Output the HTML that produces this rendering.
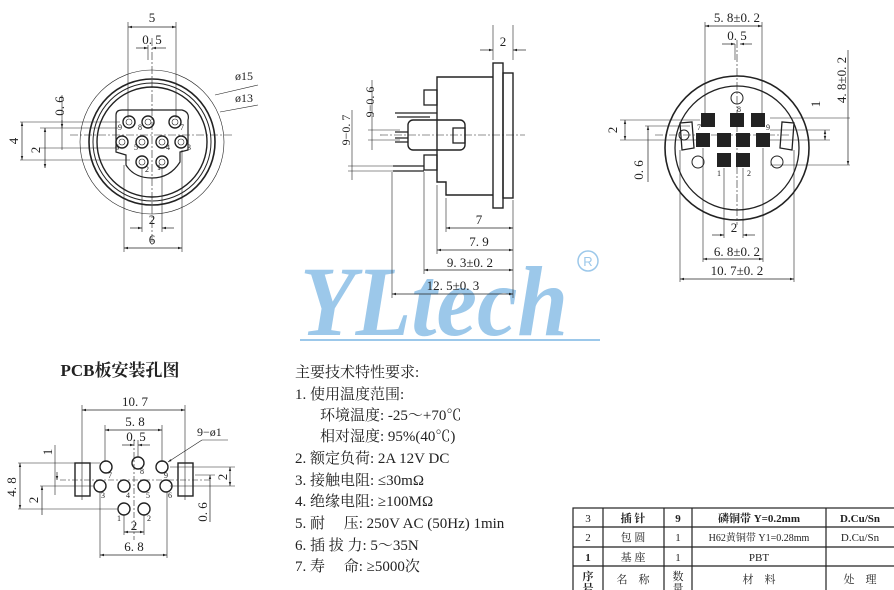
<!DOCTYPE html>
<html><head><meta charset="utf-8"><style>
html,body{margin:0;padding:0;background:#fff}
svg{display:block}
text{font-family:"Liberation Serif","Noto Serif CJK SC",serif;fill:#222}
.d{font-size:13px;text-anchor:middle}
.s{font-size:8px}
</style></head><body>
<svg width="894" height="590" viewBox="0 0 894 590" xmlns="http://www.w3.org/2000/svg">
<defs>
<marker id="a" viewBox="0 0 10 10" refX="10" refY="5" markerWidth="6" markerHeight="6" orient="auto-start-reverse"><path d="M0,2L10,5L0,8z" fill="#222"/></marker>
</defs>
<!-- watermark -->
<g fill="#9cc8ea">
<text x="300" y="335" style="font-size:100px;font-style:italic;font-weight:bold;fill:#9cc8ea" textLength="268" lengthAdjust="spacingAndGlyphs">YLtech</text>
<rect x="300" y="339" width="300" height="2"/>
</g>
<circle cx="588" cy="261" r="10" fill="none" stroke="#9cc8ea" stroke-width="1.5"/>
<text x="588" y="266" style="font-size:13px;fill:#9cc8ea;text-anchor:middle;font-family:'Liberation Sans',sans-serif">R</text>

<g stroke="#222" fill="none" stroke-width="1">
<!-- LEFT FRONT VIEW -->
<circle cx="152" cy="142" r="72" stroke-width="0.6"/>
<circle cx="152" cy="142" r="63" stroke-width="1.6"/>
<circle cx="152" cy="142" r="59"/>
<circle cx="152" cy="142" r="55" stroke-width="1.4"/>
<path d="M122,110 L182,110 Q190,112 188,120 L188,150 L180,152 L180,162 Q170,178 152,178 Q134,178 126,165 L126,155 L116,152 L116,115 Q116,110 122,110Z" stroke-width="1.2"/>
<g stroke-width="1.4">
<circle cx="129" cy="122" r="6"/><circle cx="148" cy="122" r="6"/><circle cx="175" cy="122" r="6"/>
<circle cx="122" cy="142" r="6"/><circle cx="142" cy="142" r="6"/><circle cx="162" cy="142" r="6"/><circle cx="181" cy="142" r="6"/>
<circle cx="142" cy="162" r="6"/><circle cx="162" cy="162" r="6"/>
</g>
<g stroke-width="0.6">
<circle cx="129" cy="122" r="3"/><circle cx="148" cy="122" r="3"/><circle cx="175" cy="122" r="3"/>
<circle cx="122" cy="142" r="3"/><circle cx="142" cy="142" r="3"/><circle cx="162" cy="142" r="3"/><circle cx="181" cy="142" r="3"/>
<circle cx="142" cy="162" r="3"/><circle cx="162" cy="162" r="3"/>
<line x1="128" y1="22" x2="128" y2="118"/><line x1="176" y1="22" x2="176" y2="118"/>
<line x1="152" y1="38" x2="152" y2="245" stroke-dasharray="8,2,2,2"/>
<line x1="148" y1="45" x2="148" y2="60"/>
<line x1="70" y1="135" x2="232" y2="135" stroke-dasharray="8,2,2,2"/>
<line x1="20" y1="122" x2="120" y2="122"/><line x1="20" y1="160" x2="130" y2="160"/>
<line x1="40" y1="128" x2="118" y2="128"/><line x1="40" y1="148" x2="118" y2="148"/>
<line x1="62" y1="95" x2="62" y2="150"/>
<line x1="124" y1="165" x2="124" y2="252"/><line x1="182" y1="150" x2="182" y2="252"/>
<line x1="142" y1="168" x2="142" y2="232"/><line x1="162" y1="168" x2="162" y2="232"/>
<line x1="215" y1="95" x2="258" y2="85"/><line x1="220" y1="112" x2="258" y2="105"/>
</g>
<g stroke-width="0.7">
<line x1="128" y1="27" x2="176" y2="27" marker-start="url(#a)" marker-end="url(#a)"/>
<line x1="136" y1="48" x2="148" y2="48" marker-end="url(#a)"/><line x1="166" y1="48" x2="152" y2="48" marker-end="url(#a)"/>
<line x1="22" y1="122" x2="22" y2="160" marker-start="url(#a)" marker-end="url(#a)"/>
<line x1="45" y1="128" x2="45" y2="168" marker-start="url(#a)" marker-end="url(#a)"/>
<line x1="62" y1="120" x2="62" y2="128" marker-end="url(#a)"/>
<line x1="130" y1="228" x2="142" y2="228" marker-end="url(#a)"/><line x1="174" y1="228" x2="162" y2="228" marker-end="url(#a)"/>
<line x1="124" y1="248" x2="182" y2="248" marker-start="url(#a)" marker-end="url(#a)"/>
</g>

<!-- SIDE VIEW -->
<rect x="493" y="63" width="10" height="145" stroke-width="1.4"/>
<rect x="503" y="73" width="10" height="125" stroke-width="1.4"/>
<path d="M493,77 L437,77 L437,182 L446,182 L446,195 L493,195" stroke-width="1.4"/>
<rect x="424" y="90" width="13" height="15" stroke-width="1.3"/>
<rect x="424" y="155" width="13" height="15" stroke-width="1.3"/>
<rect x="408" y="120" width="57" height="30" rx="5" stroke-width="1.4"/>
<rect x="453" y="128" width="12" height="15" stroke-width="1.3"/>
<path d="M395,113 L437,113 M397,117 L430,117 M395,132 L408,132 M395,138 L408,138 M395,142 L408,142 M393,166 L424,166 M393,171 L424,171" stroke-width="1.2"/>
<g stroke-width="0.6">
<line x1="380" y1="135" x2="525" y2="135" stroke-dasharray="8,2,2,2"/>
<line x1="513" y1="25" x2="513" y2="60"/><line x1="493" y1="25" x2="493" y2="60"/>
<line x1="513" y1="200" x2="513" y2="298"/>
<line x1="446" y1="198" x2="446" y2="232"/><line x1="437" y1="185" x2="437" y2="254"/>
<line x1="424" y1="172" x2="424" y2="274"/><line x1="392" y1="172" x2="392" y2="298"/>
<line x1="372" y1="80" x2="372" y2="150"/><line x1="352" y1="110" x2="352" y2="180"/>
<line x1="368" y1="130" x2="400" y2="130"/><line x1="368" y1="140" x2="400" y2="140"/>
<line x1="348" y1="166" x2="395" y2="166"/><line x1="348" y1="171" x2="395" y2="171"/>
</g>
<g stroke-width="0.7">
<line x1="480" y1="50" x2="493" y2="50" marker-end="url(#a)"/><line x1="526" y1="50" x2="513" y2="50" marker-end="url(#a)"/>
<line x1="446" y1="228" x2="513" y2="228" marker-start="url(#a)" marker-end="url(#a)"/>
<line x1="437" y1="250" x2="513" y2="250" marker-start="url(#a)" marker-end="url(#a)"/>
<line x1="424" y1="270" x2="513" y2="270" marker-start="url(#a)" marker-end="url(#a)"/>
<line x1="392" y1="294" x2="513" y2="294" marker-start="url(#a)" marker-end="url(#a)"/>
</g>

<!-- RIGHT VIEW -->
<circle cx="737" cy="148" r="72" stroke-width="1.6"/>
<circle cx="737" cy="148" r="62" stroke-width="1.3"/>
<circle cx="737" cy="98" r="6"/>
<circle cx="698" cy="162" r="6"/><circle cx="777" cy="162" r="6"/>
<path d="M680,123 L692,122 L694,148 L682,150Z M794,123 L782,122 L780,148 L792,150Z" stroke-width="1.3"/>
<circle cx="684" cy="135" r="5"/>
<g fill="#222" stroke="none">
<rect x="701" y="113" width="14" height="14"/><rect x="730" y="113" width="14" height="14"/><rect x="751" y="113" width="14" height="14"/>
<rect x="696" y="133" width="14" height="14"/><rect x="717" y="133" width="14" height="14"/><rect x="736" y="133" width="14" height="14"/><rect x="756" y="133" width="14" height="14"/>
<rect x="717" y="153" width="14" height="14"/><rect x="736" y="153" width="14" height="14"/>
</g>
<g stroke-width="0.6">
<line x1="705" y1="22" x2="705" y2="118"/><line x1="762" y1="22" x2="762" y2="118"/>
<line x1="737" y1="40" x2="737" y2="225" stroke-dasharray="8,2,2,2"/>
<line x1="735" y1="44" x2="735" y2="60"/>
<line x1="655" y1="135" x2="790" y2="135" stroke-dasharray="8,2,2,2"/>
<line x1="620" y1="120" x2="700" y2="120"/><line x1="620" y1="140" x2="700" y2="140"/>
<line x1="645" y1="126" x2="690" y2="126"/>
<line x1="770" y1="118" x2="850" y2="118"/><line x1="770" y1="130" x2="830" y2="130"/><line x1="770" y1="140" x2="830" y2="140"/><line x1="770" y1="165" x2="850" y2="165"/>
<line x1="680" y1="150" x2="680" y2="282"/><line x1="794" y1="150" x2="794" y2="282"/>
<line x1="703" y1="148" x2="703" y2="262"/><line x1="763" y1="148" x2="763" y2="262"/>
<line x1="724" y1="168" x2="724" y2="238"/><line x1="743" y1="168" x2="743" y2="238"/>
</g>
<g stroke-width="0.7">
<line x1="705" y1="26" x2="762" y2="26" marker-start="url(#a)" marker-end="url(#a)"/>
<line x1="722" y1="44" x2="735" y2="44" marker-end="url(#a)"/><line x1="752" y1="44" x2="740" y2="44" marker-end="url(#a)"/>
<line x1="625" y1="120" x2="625" y2="140" marker-start="url(#a)" marker-end="url(#a)"/>
<line x1="648" y1="126" x2="648" y2="182" marker-start="url(#a)"/>
<line x1="825" y1="130" x2="825" y2="140" marker-start="url(#a)" marker-end="url(#a)"/>
<line x1="848" y1="50" x2="848" y2="165" marker-end="url(#a)"/>
<line x1="712" y1="235" x2="724" y2="235" marker-end="url(#a)"/><line x1="755" y1="235" x2="743" y2="235" marker-end="url(#a)"/>
<line x1="703" y1="259" x2="763" y2="259" marker-start="url(#a)" marker-end="url(#a)"/>
<line x1="680" y1="279" x2="794" y2="279" marker-start="url(#a)" marker-end="url(#a)"/>
</g>

<!-- PCB -->
<g stroke-width="1.4">
<rect x="75" y="463" width="15" height="33"/><rect x="178" y="463" width="15" height="33"/>
<circle cx="138" cy="463" r="6"/><circle cx="106" cy="467" r="6"/><circle cx="162" cy="467" r="6"/>
<circle cx="100" cy="486" r="6"/><circle cx="124" cy="486" r="6"/><circle cx="144" cy="486" r="6"/><circle cx="166" cy="486" r="6"/>
<circle cx="124" cy="509" r="6"/><circle cx="144" cy="509" r="6"/>
</g>
<g stroke-width="0.6">
<line x1="82" y1="405" x2="82" y2="500"/><line x1="185" y1="405" x2="185" y2="500"/>
<line x1="105" y1="425" x2="105" y2="462"/><line x1="162" y1="425" x2="162" y2="462"/>
<line x1="134" y1="440" x2="134" y2="540" stroke-dasharray="6,2,2,2"/><line x1="138" y1="440" x2="138" y2="457"/>
<line x1="60" y1="480" x2="210" y2="480" stroke-dasharray="6,2,2,2"/>
<line x1="18" y1="463" x2="100" y2="463"/><line x1="18" y1="509" x2="118" y2="509"/>
<line x1="40" y1="486" x2="94" y2="486"/>
<line x1="55" y1="445" x2="55" y2="495"/>
<line x1="170" y1="467" x2="235" y2="467"/><line x1="170" y1="486" x2="235" y2="486"/><line x1="195" y1="475" x2="215" y2="475"/>
<line x1="100" y1="492" x2="100" y2="558"/><line x1="167" y1="492" x2="167" y2="558"/>
<line x1="124" y1="515" x2="124" y2="535"/><line x1="144" y1="515" x2="144" y2="535"/>
<line x1="202" y1="440" x2="168" y2="462" marker-end="url(#a)"/><line x1="202" y1="440" x2="228" y2="440"/>
</g>
<g stroke-width="0.7">
<line x1="82" y1="410" x2="185" y2="410" marker-start="url(#a)" marker-end="url(#a)"/>
<line x1="105" y1="430" x2="162" y2="430" marker-start="url(#a)" marker-end="url(#a)"/>
<line x1="122" y1="445" x2="134" y2="445" marker-end="url(#a)"/><line x1="150" y1="445" x2="138" y2="445" marker-end="url(#a)"/>
<line x1="20" y1="463" x2="20" y2="509" marker-start="url(#a)" marker-end="url(#a)"/>
<line x1="42" y1="486" x2="42" y2="515" marker-start="url(#a)"/>
<line x1="57" y1="472" x2="57" y2="480" marker-end="url(#a)"/>
<line x1="230" y1="467" x2="230" y2="486" marker-start="url(#a)" marker-end="url(#a)"/>
<line x1="210" y1="475" x2="210" y2="522" marker-start="url(#a)"/>
<line x1="124" y1="532" x2="144" y2="532" marker-start="url(#a)" marker-end="url(#a)"/>
<line x1="100" y1="555" x2="167" y2="555" marker-start="url(#a)" marker-end="url(#a)"/>
</g>

<!-- TABLE -->
<g stroke-width="1.2">
<rect x="573" y="508" width="330" height="90"/>
<line x1="573" y1="527" x2="894" y2="527"/><line x1="573" y1="547" x2="894" y2="547"/><line x1="573" y1="566" x2="894" y2="566"/>
<line x1="603" y1="508" x2="603" y2="590"/><line x1="664" y1="508" x2="664" y2="590"/><line x1="692" y1="508" x2="692" y2="590"/><line x1="826" y1="508" x2="826" y2="590"/>
</g>
</g>

<!-- left view labels -->
<text class="d" x="152" y="22">5</text>
<text class="d" x="152" y="44">0. 5</text>
<text x="235" y="80" style="font-size:12px">ø15</text>
<text x="235" y="102" style="font-size:12px">ø13</text>
<text class="d" transform="translate(64,106) rotate(-90)">0. 6</text>
<text class="d" transform="translate(18,141) rotate(-90)">4</text>
<text class="d" transform="translate(40,150) rotate(-90)">2</text>
<text class="d" x="152" y="224">2</text>
<text class="d" x="152" y="244">6</text>
<text class="s" x="118" y="130">9</text><text class="s" x="138" y="130">8</text><text class="s" x="180" y="130">7</text>
<text class="s" x="115" y="150">6</text><text class="s" x="134" y="150">5</text><text class="s" x="166" y="150">4</text><text class="s" x="187" y="150">3</text>
<text class="s" x="145" y="172">2</text><text class="s" x="157" y="170">1</text>

<!-- side labels -->
<text class="d" x="503" y="46">2</text>
<text class="d" transform="translate(374,102) rotate(-90)" style="font-size:12px">9−0. 6</text>
<text class="d" transform="translate(350,130) rotate(-90)" style="font-size:12px">9−0. 7</text>
<text class="d" x="479" y="224">7</text>
<text class="d" x="479" y="246">7. 9</text>
<text class="d" x="470" y="267">9. 3±0. 2</text>
<text class="d" x="453" y="290">12. 5±0. 3</text>

<!-- right labels -->
<text class="d" x="737" y="22">5. 8±0. 2</text>
<text class="d" x="737" y="40">0. 5</text>
<text class="d" transform="translate(846,80) rotate(-90)">4. 8±0. 2</text>
<text class="d" transform="translate(820,104) rotate(-90)">1</text>
<text class="d" transform="translate(617,130) rotate(-90)">2</text>
<text class="d" transform="translate(643,170) rotate(-90)">0. 6</text>
<text class="d" x="734" y="232">2</text>
<text class="d" x="737" y="256">6. 8±0. 2</text>
<text class="d" x="737" y="275">10. 7±0. 2</text>
<text class="s" x="737" y="112">8</text><text class="s" x="697" y="130">7</text><text class="s" x="766" y="130">9</text>
<text class="s" x="717" y="176">1</text><text class="s" x="747" y="176">2</text>

<!-- PCB labels -->
<text x="120" y="376" style="font-size:17px;font-weight:bold;text-anchor:middle">PCB板安装孔图</text>
<text class="d" x="135" y="406">10. 7</text>
<text class="d" x="135" y="426">5. 8</text>
<text class="d" x="136" y="441">0. 5</text>
<text x="197" y="436" style="font-size:12px">9−ø1</text>
<text class="d" transform="translate(52,452) rotate(-90)">1</text>
<text class="d" transform="translate(16,487) rotate(-90)">4. 8</text>
<text class="d" transform="translate(38,500) rotate(-90)">2</text>
<text class="d" transform="translate(227,477) rotate(-90)">2</text>
<text class="d" transform="translate(207,512) rotate(-90)">0. 6</text>
<text class="d" x="134" y="530">2</text>
<text class="d" x="134" y="551">6. 8</text>
<text class="s" x="108" y="478">7</text><text class="s" x="140" y="474">8</text><text class="s" x="164" y="478">9</text>
<text class="s" x="101" y="498">3</text><text class="s" x="126" y="498">4</text><text class="s" x="146" y="498">5</text><text class="s" x="168" y="498">6</text>
<text class="s" x="117" y="521">1</text><text class="s" x="147" y="521">2</text>

<!-- spec text -->
<g style="font-size:15px">
<text x="295" y="377">主要技术特性要求:</text>
<text x="295" y="399">1. 使用温度范围:</text>
<text x="320" y="420">环境温度: -25～+70℃</text>
<text x="320" y="441">相对湿度: 95%(40℃)</text>
<text x="295" y="463">2. 额定负荷: 2A 12V DC</text>
<text x="295" y="485">3. 接触电阻: ≤30mΩ</text>
<text x="295" y="506">4. 绝缘电阻: ≥100MΩ</text>
<text x="295" y="528">5. 耐　 压: 250V AC (50Hz) 1min</text>
<text x="295" y="550">6. 插 拔 力: 5～35N</text>
<text x="295" y="571">7. 寿　 命: ≥5000次</text>
</g>

<!-- table text -->
<g style="font-size:11px;text-anchor:middle">
<text x="588" y="522">3</text><text x="633" y="522" style="font-weight:bold">插 针</text><text x="678" y="522" style="font-weight:bold">9</text><text x="759" y="522" style="font-weight:bold">磷铜带 Y=0.2mm</text><text x="860" y="522" style="font-weight:bold">D.Cu/Sn</text>
<text x="588" y="541">2</text><text x="633" y="541">包 圆</text><text x="678" y="541">1</text><text x="759" y="541" style="font-size:10px">H62黄铜带 Y1=0.28mm</text><text x="860" y="541">D.Cu/Sn</text>
<text x="588" y="561" style="font-weight:bold">1</text><text x="633" y="561">基 座</text><text x="678" y="561">1</text><text x="759" y="561">PBT</text>
<text x="588" y="580" style="font-weight:bold">序</text><text x="588" y="592" style="font-weight:bold">号</text>
<text x="633" y="583">名　称</text><text x="678" y="580">数</text><text x="678" y="592">量</text><text x="759" y="583">材　料</text><text x="860" y="583">处　理</text>
</g>
</svg>
</body></html>
